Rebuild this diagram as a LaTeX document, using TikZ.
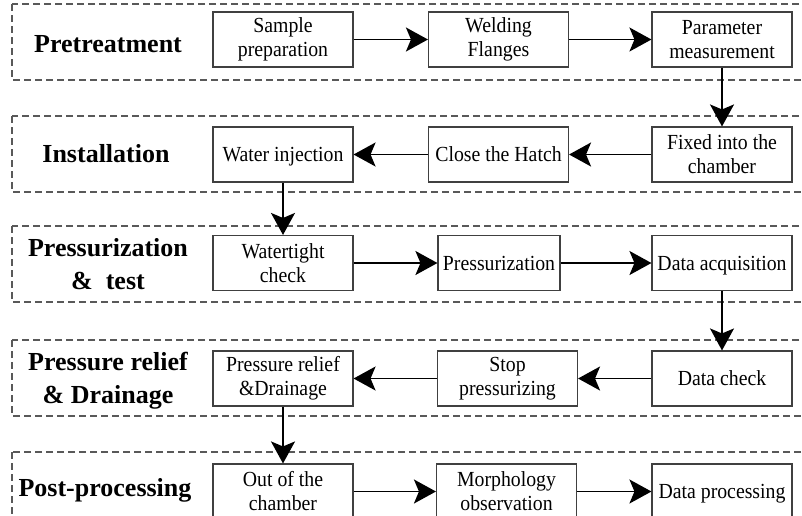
\documentclass[tikz,border=0pt]{standalone}
\usepackage{fontspec}
\setmainfont{Liberation Serif}
\newfontfamily\boxfont{Liberation Serif}[FakeStretch=0.92]
\usetikzlibrary{arrows.meta}
\begin{document}
\begin{tikzpicture}[x=1pt,y=-1pt,
  stepbox/.style={draw=black!75, line width=1.1pt, minimum width=140pt, minimum height=55pt,
    inner sep=0pt, align=center, font=\boxfont\fontsize{21.5}{24}\selectfont},
  oneline/.style={text height=14.2pt, text depth=0pt},
  frame/.style={draw=black!65, dash pattern=on 7pt off 4pt, line width=1.1pt},
  lbl/.style={font=\fontsize{26}{33}\selectfont\bfseries, align=center, inner sep=0pt},
  arr/.style={-{Stealth[length=22pt,width=24pt,inset=5pt]}, line width=1.8pt}]
\useasboundingbox (0,0) rectangle (802,515);
\clip (0,0) rectangle (802,515);
% frames
\draw[frame] (12,4) rectangle (830,80);
\draw[frame] (12,116) rectangle (830,192);
\draw[frame] (12,226) rectangle (830,302);
\draw[frame] (12,340) rectangle (830,416);
\draw[frame] (12,452) rectangle (830,540);
% labels
\node[lbl] (L1) at (108,44) {Pretreatment};
\node[lbl] (L2) at (106,153.5) {Installation};
\node[lbl] (L3) at (108,264) {Pressurization\\\& \ test};
\node[lbl] (L4) at (108,380.5) {Pressure relief\\\& Drainage};
\node[lbl] (L5) at (105,490) {Post-processing};
% row 1
\node[stepbox] (a1) at (283,39.5) {Sample\\preparation};
\node[stepbox] (a2) at (498.5,39.5) {Welding\\Flanges};
\node[stepbox] (a3) at (722,39.5) {Parameter\\measurement};
% row 2
\node[stepbox, oneline] (b1) at (283,154.5) {Water injection};
\node[stepbox, oneline] (b2) at (498.5,154.5) {Close the Hatch};
\node[stepbox] (b3) at (722,154.5) {Fixed into the\\chamber};
% row 3
\node[stepbox] (c1) at (283,263) {Watertight\\check};
\node[stepbox, oneline, minimum width=122pt] (c2) at (499,263) {Pressurization};
\node[stepbox, oneline] (c3) at (722,263) {Data acquisition};
% row 4
\node[stepbox] (d1) at (283,378.5) {Pressure relief\\\&Drainage};
\node[stepbox] (d2) at (507.5,378.5) {Stop\\pressurizing};
\node[stepbox, oneline] (d3) at (722,378.5) {Data check};
% row 5
\node[stepbox] (e1) at (283,491.5) {Out of the\\chamber};
\node[stepbox] (e2) at (506.5,491.5) {Morphology\\observation};
\node[stepbox, oneline] (e3) at (722,491.5) {Data processing};
% arrows
\draw[arr] (a1) -- (a2);
\draw[arr] (a2) -- (a3);
\draw[arr] (a3) -- (b3);
\draw[arr] (b3) -- (b2);
\draw[arr] (b2) -- (b1);
\draw[arr] (b1) -- (c1);
\draw[arr] (c1) -- (c2);
\draw[arr] (c2) -- (c3);
\draw[arr] (c3) -- (d3);
\draw[arr] (d3) -- (d2);
\draw[arr] (d2) -- (d1);
\draw[arr] (d1) -- (e1);
\draw[arr] (e1) -- (e2);
\draw[arr] (e2) -- (e3);
\end{tikzpicture}
\end{document}
